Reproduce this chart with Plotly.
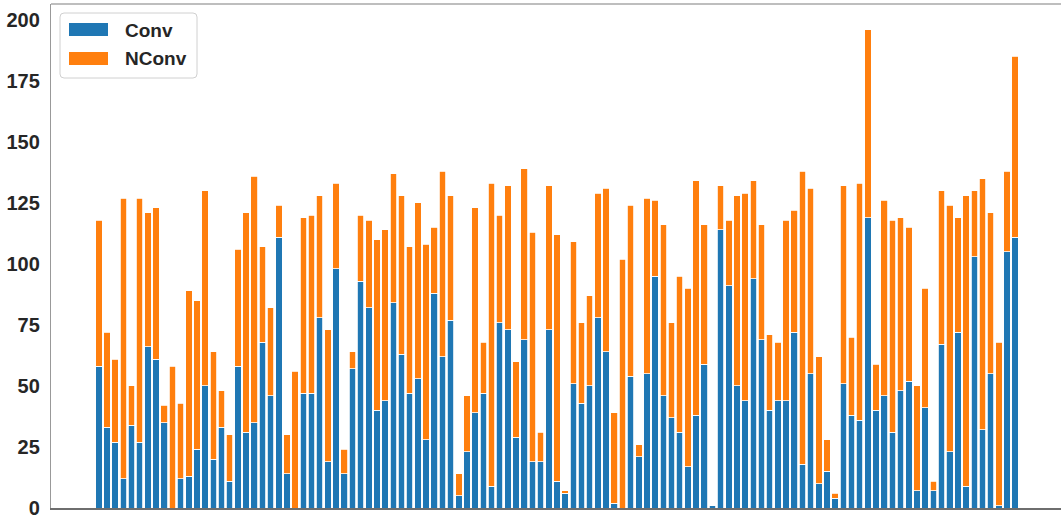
import plotly.graph_objects as go

# ---- data ----
conv = [58, 33, 27, 12, 34, 27, 66, 61, 35, 0,
        12, 13, 24, 50, 20, 33, 11, 58, 31, 35,
        68, 46, 111, 14, 0, 47, 47, 78, 19, 98,
        14, 57, 93, 82, 40, 44, 84, 63, 47, 53,
        28, 88, 62, 77, 5, 23, 39, 47, 9, 76,
        73, 29, 69, 19, 19, 73, 11, 6, 51, 43,
        50, 78, 64, 2, 0, 54, 21, 55, 95, 46,
        37, 31, 17, 38, 59, 1, 114, 91, 50, 44,
        94, 69, 40, 44, 44, 72, 18, 55, 10, 15,
        4, 51, 38, 36, 119, 40, 46, 31, 48, 52,
        7, 41, 7, 67, 23, 72, 9, 103, 32, 55,
        1, 105, 111]
nconv = [60, 39, 34, 115, 16, 100, 55, 62, 7, 58,
         31, 76, 61, 80, 44, 15, 19, 48, 90, 101,
         39, 36, 13, 16, 56, 72, 73, 50, 54, 35,
         10, 7, 27, 36, 70, 70, 53, 65, 60, 72,
         80, 27, 76, 51, 9, 23, 84, 21, 124, 44,
         59, 31, 70, 94, 12, 59, 101, 1, 58, 33,
         37, 51, 67, 37, 102, 70, 5, 72, 31, 70,
         39, 64, 73, 96, 57, 0, 18, 27, 78, 85,
         40, 47, 31, 24, 74, 50, 120, 76, 52, 13,
         2, 81, 32, 97, 77, 19, 80, 87, 71, 63,
         43, 49, 4, 63, 101, 47, 119, 27, 103, 66,
         67, 33, 74]
categories = list(range(len(conv)))
series_names = ["Conv", "NConv"]
y_ticks = [0, 25, 50, 75, 100, 125, 150, 175, 200]

BLUE = "#1f77b4"
ORANGE = "#ff7f0e"
TXT = "#262626"
FONT = "Liberation Sans, Arial, sans-serif"

fig = go.Figure()
fig.add_trace(go.Bar(x=categories, y=conv, name=series_names[0], marker_color=BLUE,
                     marker_line_color="white", marker_line_width=0.8, width=0.8))
fig.add_trace(go.Bar(x=categories, y=nconv, name=series_names[1], marker_color=ORANGE,
                     marker_line_color="white", marker_line_width=0.8, width=0.8))

W, H = 1061, 523
L, R, T, B = 51, 0, 4, 15
pw, ph = W - L - R, H - T - B

def px(x):
    return (x - L) / pw

def py(y):
    return (H - B - y) / ph

# custom legend (matplotlib-like)
x0, x1, y0, y1, r = 60, 197, 13, 78, 4
path = (f"M {px(x0 + r)},{py(y0)} L {px(x1 - r)},{py(y0)} "
        f"Q {px(x1)},{py(y0)} {px(x1)},{py(y0 + r)} L {px(x1)},{py(y1 - r)} "
        f"Q {px(x1)},{py(y1)} {px(x1 - r)},{py(y1)} L {px(x0 + r)},{py(y1)} "
        f"Q {px(x0)},{py(y1)} {px(x0)},{py(y1 - r)} L {px(x0)},{py(y0 + r)} "
        f"Q {px(x0)},{py(y0)} {px(x0 + r)},{py(y0)} Z")
shapes = [
    dict(type="path", xref="paper", yref="paper", path=path,
         fillcolor="rgba(255,255,255,0.85)", line=dict(color="#d0d0d0", width=1)),
    dict(type="rect", xref="paper", yref="paper", x0=px(69), x1=px(108), y0=py(36), y1=py(23),
         fillcolor=BLUE, line=dict(width=0)),
    dict(type="rect", xref="paper", yref="paper", x0=px(69), x1=px(108), y0=py(65), y1=py(52),
         fillcolor=ORANGE, line=dict(width=0)),
    dict(type="line", xref="paper", yref="paper", x0=0, x1=1, y0=1, y1=1,
         line=dict(color="#a8a8a8", width=1.3)),
]
annotations = [
    dict(xref="paper", yref="paper", x=px(123), y=py(30), text="<b>" + series_names[0] + "</b>",
         showarrow=False, xanchor="left", yanchor="middle",
         font=dict(size=19, color=TXT, family=FONT)),
    dict(xref="paper", yref="paper", x=px(123), y=py(59), text="<b>" + series_names[1] + "</b>",
         showarrow=False, xanchor="left", yanchor="middle",
         font=dict(size=19, color=TXT, family=FONT)),
]

fig.update_layout(
    barmode="stack",
    width=W, height=H,
    margin=dict(l=L, r=R, t=T, b=B, autoexpand=False),
    paper_bgcolor="white", plot_bgcolor="white",
    showlegend=False,
    shapes=shapes, annotations=annotations,
    font=dict(family=FONT, color=TXT),
)
fig.update_xaxes(range=[-5.84, 117.6], showticklabels=False, showgrid=False, zeroline=False,
                 showline=True, linecolor="#6e6e6e", linewidth=1.5, ticks="", automargin=False)
fig.update_yaxes(range=[0, 206.5], tickvals=y_ticks, ticktext=[f"<b>{v}</b>" for v in y_ticks],
                 tickfont=dict(size=20, color=TXT, family=FONT),
                 showgrid=False, zeroline=False, showline=True, linecolor="#999999", linewidth=1.3,
                 ticks="", ticklabelstandoff=6, automargin=False)

fig.write_html("out.html", config={"displayModeBar": False},
               post_script="document.body.style.margin='0';document.body.style.overflow='hidden';")
